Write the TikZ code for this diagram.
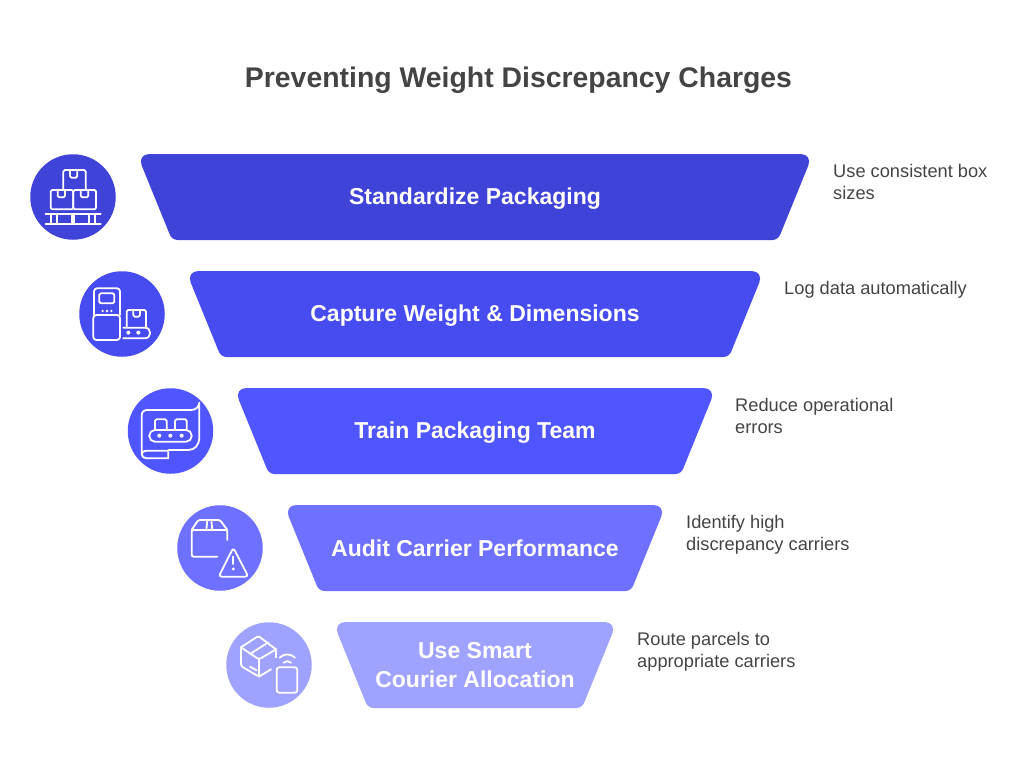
\documentclass[tikz,border=0pt]{standalone}
\usepackage{fontspec}
\setmainfont{Liberation Sans}
\definecolor{bandA}{HTML}{4043D8}
\definecolor{bandB}{HTML}{474CF0}
\definecolor{bandC}{HTML}{4F55FF}
\definecolor{bandD}{HTML}{6E70FF}
\definecolor{bandE}{HTML}{A0A2FF}
\definecolor{inkgray}{HTML}{444444}
\begin{document}
\begin{tikzpicture}[x=1pt,y=-1pt]
	\tikzstyle{bandtext} = [text=white, font=\fontsize{23}{29}\selectfont\bfseries, align=center, inner sep=0pt]
	\tikzstyle{note} = [text=inkgray, font=\fontsize{18.25}{22}\selectfont, align=left, anchor=west, inner sep=0pt]
	\tikzstyle{badge} = [circle, minimum size=85.5pt, inner sep=0pt]
	\tikzstyle{icon} = [draw=white, line width=1.8pt, rounded corners=1.5pt, line cap=round, line join=round]
	\tikzstyle{zoomA} = [shift={(20,145)}, x=0.3333pt, y=-0.3333pt]
	\tikzstyle{zoomB} = [shift={(120,380)}, x=0.3333pt, y=-0.3333pt]
	\tikzstyle{zoomC} = [shift={(215,610)}, x=0.3333pt, y=-0.3333pt]
	
	\useasboundingbox (0,0) rectangle (1024,763);
	
	\node[text=inkgray, font=\fontsize{28.4}{34}\selectfont\bfseries, inner sep=0pt] (title) at (518.5,80) {Preventing Weight Discrepancy Charges};
	
	%bands
	\foreach \col/\xa/\xb/\ya in {bandA/137/813/154, bandB/186/764/271, bandC/234/716/388, bandD/284/666/505, bandE/333/617/622}
		\fill[\col] (475,\ya+86) [rounded corners=5.5pt] -- (\xa+35,\ya+86) [rounded corners=12.5pt] -- (\xa,\ya) -- (\xb,\ya) [rounded corners=5.5pt] -- (\xb-35,\ya+86) -- cycle;
	
	\node[bandtext] (standardize) at (475,199) {Standardize Packaging};
	\node[bandtext] (capture) at (475,316) {Capture Weight \& Dimensions};
	\node[bandtext] (train) at (475,433) {Train Packaging Team};
	\node[bandtext] (audit) at (475,548) {Audit Carrier Performance};
	\node[bandtext] (smart) at (475,665) {Use Smart\\Courier Allocation};
	
	%notes
	\node[note] (noteboxes) at (833,182) {Use consistent box\\sizes};
	\node[note] (notelog) at (784,290) {Log data automatically};
	\node[note] (noteerrors) at (735,416) {Reduce operational\\errors};
	\node[note] (notehigh) at (686,535) {Identify high\\discrepancy carriers};
	\node[note] (noteroute) at (637,652) {Route parcels to\\appropriate carriers};
	
	%circles
	\node[badge, fill=bandA] (pallet) at (73,197) {};
	\node[badge, fill=bandB] (scale) at (122,314) {};
	\node[badge, fill=bandC] (manual) at (170.5,431) {};
	\node[badge, fill=bandD] (warning) at (220,548) {};
	\node[badge, fill=bandE] (wireless) at (269,665) {};
	
	%pallet icon
	\begin{scope}[zoomA]
		\draw[icon] (130,133) -- (130,75) -- (197,75) -- (197,133);
		\draw[icon] (150,75) -- (150,98) -- (172,98) -- (172,75);
		\draw[icon] (92,135) rectangle (160,193);
		\draw[icon] (160,135) rectangle (228,193);
		\draw[icon] (113,135) -- (113,157) -- (135,157) -- (135,135);
		\draw[icon] (182,135) -- (182,157) -- (205,157) -- (205,135);
		\draw[icon] (77,208) -- (242,208);
		\draw[icon] (77,238) -- (242,238);
		\foreach \x in {93,110,155,163,208,225}
			\draw[icon] (\x,208) -- (\x,238);
	\end{scope}
	
	%machine icon
	\begin{scope}[zoomA]
		\draw[icon, rounded corners=3pt] (222,510) -- (222,430) -- (300,430) -- (300,510);
		\draw[icon] (238,445) rectangle (283,475);
		\draw[icon, rounded corners=3pt] (220,510) -- (220,585) -- (300,585) -- (300,510) -- cycle;
		\foreach \x in {248,261,274}
			\fill[white] (\x,498) circle (1.3pt);
		\draw[icon] (320,545) -- (320,495) -- (378,495) -- (378,545);
		\draw[icon] (340,495) -- (340,515) -- (360,515) -- (360,495);
		\draw[icon, rounded corners=0pt] (310,548) -- (374,548) .. controls (396,548) and (396,580) .. (374,580) -- (310,580);
		\foreach \x in {325,355}
			\fill[white] (\x,563) circle (2pt);
	\end{scope}
	
	%manual icon
	\begin{scope}[zoomB]
		\draw[icon] (105,150) -- (105,118) -- (140,118) -- (140,150);
		\draw[icon] (165,150) -- (165,118) -- (200,118) -- (200,150);
		\draw[icon, rounded corners=5.5pt] (88,150) rectangle (215,185);
		\foreach \x in {118,151,185}
			\fill[white] (\x,167) circle (2pt);
		\draw[icon, rounded corners=0pt] (238,68) .. controls (236,82) and (228,90) .. (212,90) -- (82,90) .. controls (72,90) and (65,96) .. (65,106) -- (65,222) .. controls (65,230) and (72,235) .. (80,235) -- (145,235) -- (145,210) -- (205,210) .. controls (225,210) and (238,195) .. (238,170) -- cycle;
		\draw[icon, rounded corners=0pt] (65,222) .. controls (65,216) and (72,212) .. (80,212) -- (145,212);
	\end{scope}
	
	%warning icon
	\begin{scope}[zoomB]
		\draw[icon] (322,480) -- (322,450) -- (215,450) -- (215,530) -- (292,530);
		\draw[icon] (215,450) -- (235,420) -- (300,420) -- (322,450);
		\draw[icon, rounded corners=0pt] (259,450) -- (262,420);
		\draw[icon, rounded corners=0pt] (277,450) -- (274,420);
		\draw[icon, rounded corners=3pt] (340,503) -- (385,590) -- (296,590) -- cycle;
		\draw[icon] (340,530) -- (340,552);
		\fill[white] (340,567) circle (1.6pt);
	\end{scope}
	
	%wireless icon
	\begin{scope}[zoomC]
		\draw[icon] (78,112) -- (130,78) -- (183,118);
		\draw[icon] (78,112) -- (132,148) -- (183,118);
		\draw[icon] (78,112) -- (78,168) -- (132,200) -- (132,148);
		\draw[icon] (132,200) -- (168,178);
		\draw[icon] (183,118) -- (183,142);
		\draw[icon, rounded corners=0pt] (105,132) -- (160,97);
		\draw[icon, rounded corners=0pt] (105,170) -- (125,181);
		\draw[icon, rounded corners=2.5pt] (185,172) rectangle (247,248);
		\draw[icon, rounded corners=0pt] (206,158) .. controls (212,152) and (222,152) .. (228,158);
		\draw[icon, rounded corners=0pt] (194,143) .. controls (206,130) and (228,130) .. (240,143);
	\end{scope}
	
\end{tikzpicture}
\end{document}
